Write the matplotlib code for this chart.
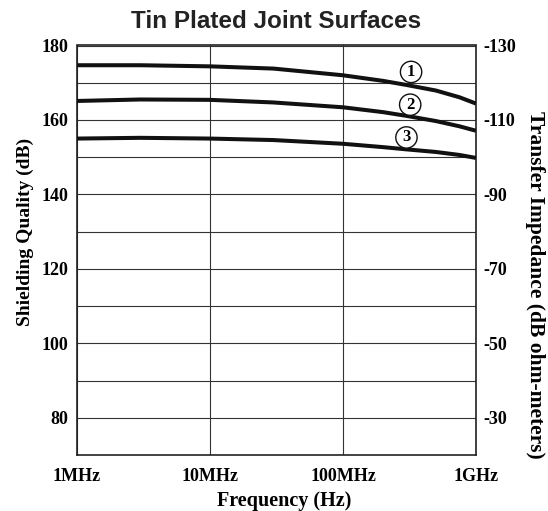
import numpy as np
import matplotlib
matplotlib.use('Agg')
import matplotlib.pyplot as plt
from matplotlib.ticker import FixedLocator, NullLocator

plt.rcParams['axes.unicode_minus'] = False
plt.rcParams['font.family'] = 'Liberation Serif'
plt.rcParams['font.weight'] = 'bold'
plt.rcParams['axes.labelweight'] = 'bold'

# values
freq = [1e6, 3e6, 1e7, 3e7, 1e8, 2e8, 3e8, 5e8, 7.5e8, 1e9]
curve_1 = [174.7, 174.7, 174.4, 173.8, 172.0, 170.5, 169.4, 167.9, 166.1, 164.4]
curve_2 = [165.1, 165.5, 165.4, 164.7, 163.4, 162.1, 161.1, 159.7, 158.3, 157.1]
curve_3 = [155.0, 155.2, 155.0, 154.6, 153.6, 152.7, 152.1, 151.4, 150.6, 149.8]

label_names = ['1', '2', '3']
label_freq = [3.25e8, 3.2e8, 3.0e8]
label_db = [172.9, 164.1, 155.3]

x_ticks = [1e6, 1e7, 1e8, 1e9]
x_ticklabels = ['1MHz', '10MHz', '100MHz', '1GHz']
left_ticks = [80, 100, 120, 140, 160, 180]
left_minor = [90, 110, 130, 150, 170]
right_ticks = [-130, -110, -90, -70, -50, -30]

fig = plt.figure(figsize=(5.48, 5.11), dpi=100)
ax = fig.add_axes([77/548, 1-455/511, 399/548, 409.5/511])

for c in (curve_1, curve_2, curve_3):
    ax.plot(freq, c, color='#111111', lw=2.9, solid_capstyle='butt', zorder=3)

for name, f, db in zip(label_names, label_freq, label_db):
    ax.text(f, db, name, ha='center', va='center', fontsize=12, zorder=4,
            bbox=dict(boxstyle='circle,pad=0.16', fc='white', ec='#111111', lw=1.0))

ax.set_xscale('log')
ax.set_xlim(1e6, 1e9)
ax.set_ylim(70, 180)
ax.xaxis.set_major_locator(FixedLocator(x_ticks))
ax.xaxis.set_minor_locator(NullLocator())
ax.set_xticklabels(x_ticklabels)
ax.yaxis.set_major_locator(FixedLocator(left_ticks))
ax.yaxis.set_minor_locator(FixedLocator(left_minor))
ax.grid(True, which='both', color='#333333', lw=0.8)
ax.tick_params(which='both', length=0, labelsize=13)
ax.tick_params(axis='x', pad=9)
ax.tick_params(axis='y', pad=6)
for s in ax.spines.values():
    s.set_linewidth(1.2)
    s.set_color('#222222')

ax2 = ax.twinx()
ax2.set_ylim(50 - 70, 50 - 180)
ax2.yaxis.set_major_locator(FixedLocator(right_ticks))
ax2.tick_params(length=0, labelsize=13, pad=5)
for s in ax2.spines.values():
    s.set_visible(False)

ax.set_xlabel('Frequency (Hz)', fontsize=14.5)
ax.set_ylabel('Shielding Quality (dB)', fontsize=14)
ax2.set_ylabel('Transfer Impedance (dB ohm-meters)', fontsize=15.5, rotation=270)
for lab in (ax.yaxis.label, ax2.yaxis.label, ax.xaxis.label):
    lab.set_rotation_mode('default')
    lab.set_va('center')
    lab.set_ha('center')
ax.yaxis.set_label_coords((25 - 77) / 399, (455 - 232) / 409.5)
ax2.yaxis.set_label_coords((535 - 77) / 399, (455 - 285) / 409.5)
ax.xaxis.set_label_coords((284 - 77) / 399, (455 - 501) / 409.5)

fig.text(276 / 548, 1 - 21 / 511, 'Tin Plated Joint Surfaces', ha='center', va='center',
         fontsize=17.5, fontweight='bold', family='Liberation Sans', color='#222222')

fig.savefig('out.png', dpi=100, facecolor='white')
